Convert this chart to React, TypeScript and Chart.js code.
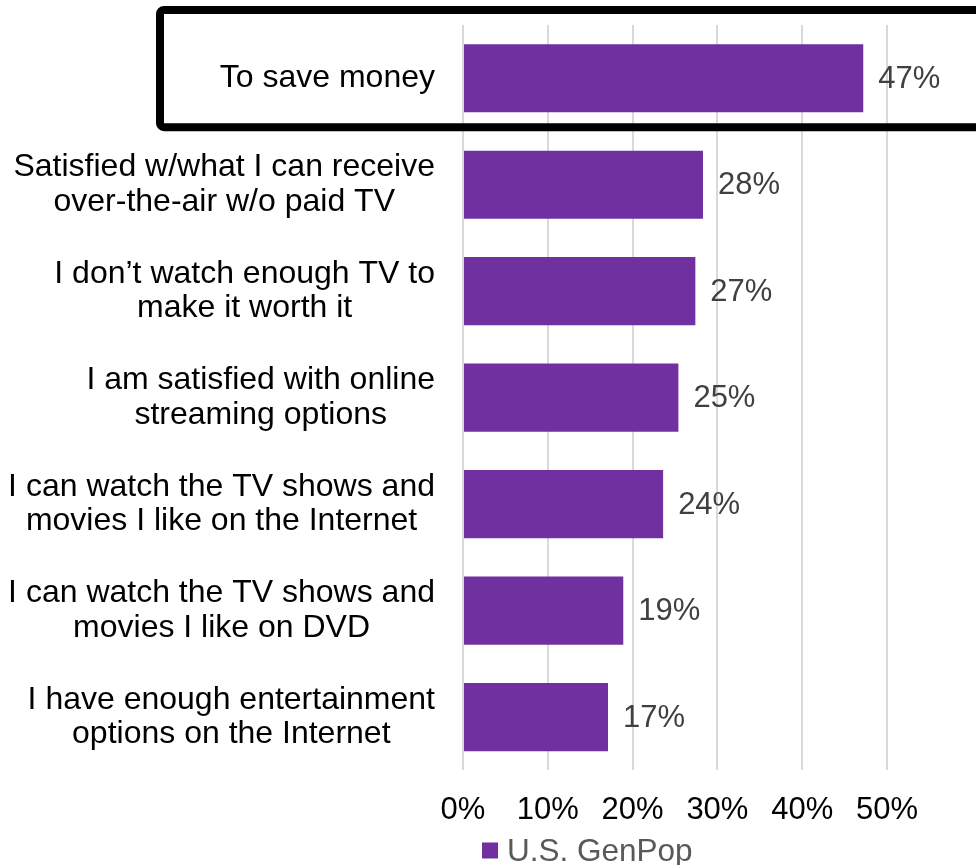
import React, { useEffect, useRef } from "react";
import { Chart, registerables } from "chart.js";

Chart.register(...registerables);

const categories: string[][] = [
  ["To save money"],
  ["Satisfied w/what I can receive", "over-the-air w/o paid TV"],
  ["I don’t watch enough TV to", "make it worth it"],
  ["I am satisfied with online", "streaming options"],
  ["I can watch the TV shows and", "movies I like on the Internet"],
  ["I can watch the TV shows and", "movies I like on DVD"],
  ["I have enough entertainment", "options on the Internet"],
];
const values = [47.2, 28.3, 27.4, 25.4, 23.6, 18.9, 17.1];
const seriesName = "U.S. GenPop";
const xTickValues = [0, 10, 20, 30, 40, 50];

const FONT = "'Liberation Sans', Arial, sans-serif";
const PURPLE = "#7030A0";

const customPlugin = {
  id: "custom",
  afterDatasetsDraw(chart: any) {
    const { ctx, chartArea } = chart;
    const yScale = chart.scales.y;
    const meta = chart.getDatasetMeta(0);
    ctx.save();
    // category labels: each block right-aligned, lines centred within block
    ctx.font = `32px ${FONT}`;
    ctx.fillStyle = "#000000";
    ctx.textAlign = "center";
    ctx.textBaseline = "middle";
    const lh = 34.5;
    const rightEdge = chartArea.left - 28;
    (chart.data.labels as string[][]).forEach((lines, i) => {
      const w = Math.max(...lines.map((l) => ctx.measureText(l).width));
      const cx = rightEdge - w / 2;
      const cy = yScale.getPixelForValue(i);
      lines.forEach((l, j) => {
        ctx.fillText(l, cx, cy + (j - (lines.length - 1) / 2) * lh);
      });
    });
    // data labels
    ctx.font = `31px ${FONT}`;
    ctx.fillStyle = "#404040";
    ctx.textAlign = "left";
    meta.data.forEach((bar: any, i: number) => {
      const v = chart.data.datasets[0].data[i] as number;
      ctx.fillText(Math.round(v) + "%", bar.x + 15, bar.y + 1);
    });
    // highlight box around first category
    const rowH = (chartArea.bottom - chartArea.top) / values.length;
    const rowTop = yScale.getPixelForValue(0) - rowH / 2;
    const top = rowTop - 15;
    const bottom = rowTop + rowH * 0.96;
    const left = 160;
    const right = chart.width + 20;
    ctx.lineWidth = 8;
    ctx.strokeStyle = "#000000";
    ctx.beginPath();
    ctx.roundRect(left, top, right - left, bottom - top, 4);
    ctx.stroke();
    // legend
    const ds = chart.data.datasets[0];
    const lx = chartArea.left + 19;
    const ly = 850.5;
    ctx.fillStyle = ds.backgroundColor;
    ctx.fillRect(lx, ly - 8, 16, 16);
    ctx.fillStyle = "#595959";
    ctx.font = `31.5px ${FONT}`;
    ctx.textAlign = "left";
    ctx.textBaseline = "middle";
    ctx.fillText(ds.label, lx + 25, ly + 2);
    ctx.restore();
  },
};

export default function App() {
  const ref = useRef<HTMLCanvasElement | null>(null);
  useEffect(() => {
    document.body.style.margin = "0";
    if (!ref.current) return;
    const chart = new Chart(ref.current, {
      type: "bar",
      data: {
        labels: categories as any,
        datasets: [
          {
            label: seriesName,
            data: values,
            backgroundColor: PURPLE,
            barPercentage: 0.64,
            categoryPercentage: 1,
          },
        ],
      },
      options: {
        indexAxis: "y",
        responsive: false,
        animation: false,
        layout: { padding: { top: 25, right: 89, bottom: 14.5, left: 0 } },
        plugins: {
          legend: { display: false },
          tooltip: { enabled: false },
        },
        scales: {
          x: {
            min: 0,
            max: 50,
            afterBuildTicks: (scale: any) => {
              scale.ticks = xTickValues.map((v) => ({ value: v }));
            },
            grid: { color: "#d9d9d9", lineWidth: 2, drawTicks: false },
            border: { display: false },
            ticks: {
              padding: 21.5,
              color: "#000000",
              font: { size: 31, family: FONT },
              callback: (v: any) => v + "%",
              maxRotation: 0,
            },
          },
          y: {
            grid: { display: false },
            border: { display: false },
            ticks: { display: false },
            afterFit: (scale: any) => {
              scale.width = 463;
            },
          },
        },
      },
      plugins: [customPlugin],
    });
    return () => chart.destroy();
  }, []);
  return (
    <div style={{ width: 976, height: 865, position: "relative" }}>
      <canvas ref={ref} width={976} height={865} style={{ width: 976, height: 865, display: "block" }} />
    </div>
  );
}
